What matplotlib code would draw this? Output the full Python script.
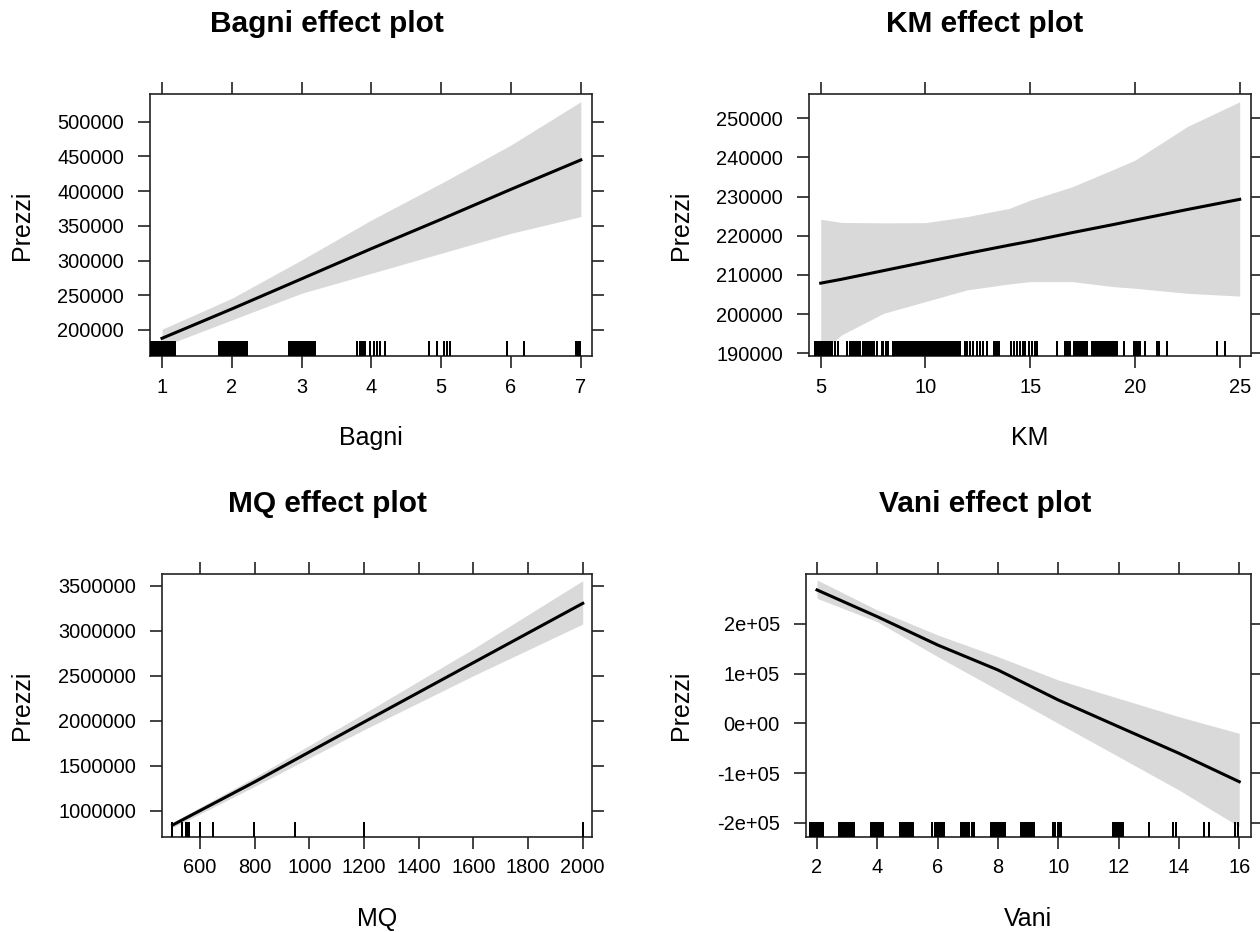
import matplotlib
matplotlib.use("Agg")
import matplotlib.pyplot as plt

plt.rcParams['font.family'] = ['Liberation Sans', 'DejaVu Sans']

W, H = 1260, 932

# ---------------- data ----------------
bagni_x = [1, 2, 3, 4, 5, 6, 7]
bagni_fit = [188000, 230300, 273700, 317200, 359500, 402700, 445000]
bagni_upper = [201000, 245700, 300900, 358500, 411400, 466600, 529000]
bagni_lower = [176000, 214400, 252900, 281700, 310500, 339300, 363300]
bagni_rug = [0.83, 0.85, 0.87, 0.89, 0.91, 0.93, 0.95, 0.97, 0.99, 1.01, 1.03, 1.05, 1.07,
             1.09, 1.11, 1.13, 1.15, 1.17, 1.19,
             1.81, 1.83, 1.85, 1.87, 1.89, 1.91, 1.93, 1.95, 1.97, 1.99, 2.01, 2.03, 2.05,
             2.07, 2.09, 2.11, 2.13, 2.15, 2.17, 2.19, 2.21, 2.22,
             2.82, 2.84, 2.86, 2.88, 2.90, 2.92, 2.94, 2.96, 2.98, 3.00,
             3.04, 3.06, 3.08, 3.10, 3.12, 3.14, 3.16, 3.18, 3.19,
             3.80, 3.84, 3.86, 3.88, 3.90, 3.91, 3.98, 4.03, 4.08, 4.13, 4.19,
             4.83, 4.94, 5.04, 5.08, 5.13,
             5.94, 6.18,
             6.93, 6.96, 6.99]

km_x = [5, 6, 8, 10, 12, 14, 15, 17, 19, 20, 22.5, 25]
km_fit = [207900, 208900, 211100, 213300, 215500, 217600, 218600, 220800, 222900, 224000, 226700, 229300]
km_upper = [224200, 223400, 223300, 223350, 224900, 227000, 229100, 232500, 237000, 239300, 247900, 254200]
km_lower = [190000, 194700, 200200, 203200, 206200, 207700, 208300, 208300, 207000, 206600, 205300, 204600]
km_rug = [4.73, 4.80, 4.86, 4.93, 4.99, 5.06, 5.13, 5.20, 5.27, 5.33, 5.40, 5.46, 5.52,
          5.68, 5.84, 6.24, 6.40, 6.48, 6.56, 6.64, 6.72, 6.80, 6.88, 7.04,
          7.12, 7.20, 7.28, 7.36, 7.44, 7.52, 7.67, 7.91, 7.99, 8.12, 8.23,
          8.44, 8.49, 8.54, 8.59, 8.64, 8.69, 8.74, 8.79, 8.84, 8.89, 8.95,
          9.03, 9.10, 9.16, 9.23, 9.29, 9.36, 9.42, 9.49, 9.55, 9.62, 9.68, 9.75,
          9.81, 9.88, 9.94, 10.01, 10.07, 10.14, 10.20, 10.27, 10.33, 10.40, 10.46,
          10.53, 10.59, 10.66, 10.72, 10.79, 10.85, 10.92, 10.98, 11.05, 11.11,
          11.18, 11.24, 11.31, 11.37, 11.44, 11.50, 11.57, 11.63, 11.66,
          11.89, 12.00, 12.13, 12.29, 12.45, 12.61, 12.77, 12.93,
          13.28, 13.36, 13.44, 13.49,
          14.08, 14.21, 14.37, 14.50, 14.64, 14.77, 14.93, 15.09, 15.25, 15.32,
          16.28, 16.67, 16.75, 16.83, 16.91,
          17.07, 17.14, 17.20, 17.27, 17.33, 17.40, 17.46, 17.53, 17.59, 17.66, 17.71,
          17.95, 18.03, 18.15, 18.22, 18.28, 18.35, 18.41, 18.50,
          18.58, 18.65, 18.71, 18.78, 18.84, 18.91, 18.97, 19.04, 19.10, 19.14,
          19.46, 19.94, 20.02, 20.10, 20.18, 20.26, 20.49, 21.05, 21.13, 21.53,
          23.92, 24.32]

mq_x = [500, 800, 1200, 1600, 2000]
mq_fit = [841000, 1320000, 1985000, 2645000, 3304000]
mq_upper = [870000, 1372000, 2080000, 2800000, 3556000]
mq_lower = [812000, 1270000, 1900000, 2500000, 3074000]
mq_rug = [499, 533, 548, 555, 561, 600, 646, 799, 948, 1200, 2000]

vani_x = [2, 4, 6, 8, 10, 12, 14, 16]
vani_fit = [268500, 214700, 157700, 107400, 47000, -6800, -60300, -117500]
vani_upper = [288600, 228200, 177900, 134200, 87300, 50400, 13400, -20100]
vani_lower = [251700, 204600, 134200, 67100, 0, -67100, -134200, -208100]
vani_rug = [1.77, 1.81, 1.86, 1.90, 1.95, 1.99, 2.04, 2.08, 2.13, 2.17, 2.19,
            2.74, 2.78, 2.83, 2.87, 2.92, 2.96, 3.01, 3.05, 3.10, 3.14, 3.19, 3.23,
            3.78, 3.82, 3.87, 3.91, 3.96, 4.00, 4.05, 4.09, 4.14, 4.18, 4.20,
            4.75, 4.79, 4.84, 4.88, 4.93, 4.97, 5.02, 5.06, 5.11, 5.15, 5.19,
            5.82, 5.91, 5.95, 6.00, 6.04, 6.09, 6.13, 6.18, 6.21,
            6.77, 6.81, 6.86, 6.90, 6.95, 6.99, 7.04, 7.13, 7.20,
            7.76, 7.80, 7.85, 7.89, 7.94, 7.96, 8.01, 8.05, 8.10, 8.14, 8.19, 8.23,
            8.78, 8.83, 8.88, 8.95, 9.00, 9.05, 9.10, 9.15, 9.20,
            9.83, 9.89, 10.00, 10.04, 10.08,
            11.80, 11.88, 11.93, 11.98, 12.03, 12.08, 12.13,
            13.02, 13.79, 13.90, 14.84, 15.00, 15.85, 15.96]

bagni_xticks = [1, 2, 3, 4, 5, 6, 7]
bagni_yticks = [200000, 250000, 300000, 350000, 400000, 450000, 500000]
km_xticks = [5, 10, 15, 20, 25]
km_yticks = [190000, 200000, 210000, 220000, 230000, 240000, 250000]
mq_xticks = [600, 800, 1000, 1200, 1400, 1600, 1800, 2000]
mq_yticks = [1000000, 1500000, 2000000, 2500000, 3000000, 3500000]
vani_xticks = [2, 4, 6, 8, 10, 12, 14, 16]
vani_yticks = [-200000, -100000, 0, 100000, 200000]
vani_ytick_labels = ["-2e+05", "-1e+05", "0e+00", "1e+05", "2e+05"]

titles = ["Bagni effect plot", "KM effect plot", "MQ effect plot", "Vani effect plot"]
xlabels = ["Bagni", "KM", "MQ", "Vani"]
ylabel = "Prezzi"

# ---------------- figure ----------------
fig = plt.figure(figsize=(W / 100, H / 100), dpi=100)


def rect(l, t, r, b):
    return [l / W, 1 - b / H, (r - l) / W, (b - t) / H]


def fxy(x, y):
    return x / W, 1 - y / H


panels = [
    dict(box=rect(150, 94, 592, 356), x=bagni_x, fit=bagni_fit, up=bagni_upper, lo=bagni_lower,
         rug=bagni_rug, xt=bagni_xticks, yt=bagni_yticks, ytl=[str(v) for v in bagni_yticks],
         xlim=(0.828, 7.16), ylim=(162500, 540000), tx=327, ty=32, ylx=22, xlx=371, xly=445),
    dict(box=rect(809, 94, 1251, 356), x=km_x, fit=km_fit, up=km_upper, lo=km_lower,
         rug=km_rug, xt=km_xticks, yt=km_yticks, ytl=[str(v) for v in km_yticks],
         xlim=(4.44, 25.54), ylim=(189300, 256200), tx=985, ty=32, ylx=681, xlx=1030, xly=445),
    dict(box=rect(162, 574.3, 592.3, 836.7), x=mq_x, fit=mq_fit, up=mq_upper, lo=mq_lower,
         rug=mq_rug, xt=mq_xticks, yt=mq_yticks, ytl=[str(v) for v in mq_yticks],
         xlim=(461, 2035), ylim=(711000, 3627000), tx=327, ty=512, ylx=22, xlx=377, xly=926),
    dict(box=rect(805.7, 574.3, 1250.7, 836.7), x=vani_x, fit=vani_fit, up=vani_upper, lo=vani_lower,
         rug=vani_rug, xt=vani_xticks, yt=vani_yticks, ytl=vani_ytick_labels,
         xlim=(1.625, 16.38), ylim=(-228200, 300000), tx=985, ty=512, ylx=681, xlx=1028, xly=926),
]

for i, p in enumerate(panels):
    ax = fig.add_axes(p["box"])
    ax.fill_between(p["x"], p["lo"], p["up"], color="#d9d9d9", linewidth=0, zorder=1)
    ax.plot(p["x"], p["fit"], color="black", linewidth=2.2, zorder=3)
    ax.vlines(p["rug"], 0, 0.057, transform=ax.get_xaxis_transform(), color="black",
              linewidth=1.3, antialiased=False, zorder=4)
    ax.set_xlim(*p["xlim"])
    ax.set_ylim(*p["ylim"])
    ax.set_xticks(p["xt"])
    ax.set_xticklabels([str(v) for v in p["xt"]])
    ax.set_yticks(p["yt"])
    ax.set_yticklabels(p["ytl"])
    for s in ax.spines.values():
        s.set_linewidth(1.2)
        s.set_color("#222222")
    ax.tick_params(axis="both", which="major", direction="out", length=8.6, width=1.2,
                   color="#222222", top=True, right=True, labeltop=False, labelright=False,
                   labelsize=14.4, labelcolor="black")
    ax.tick_params(axis="x", pad=7)
    ax.tick_params(axis="y", pad=10)

    tx, ty = fxy(p["tx"], p["ty"])
    fig.text(tx, ty, titles[i], ha="center", va="baseline", fontsize=21.5, fontweight="bold")
    bx, by = fxy(p["xlx"], p["xly"])
    fig.text(bx, by, xlabels[i], ha="center", va="baseline", fontsize=18)
    b = p["box"]
    lx, _ = fxy(p["ylx"], 0)
    fig.text(lx, b[1] + b[3] / 2, ylabel, ha="center", va="center", rotation=90, fontsize=18)

fig.savefig("out.png", dpi=100)
